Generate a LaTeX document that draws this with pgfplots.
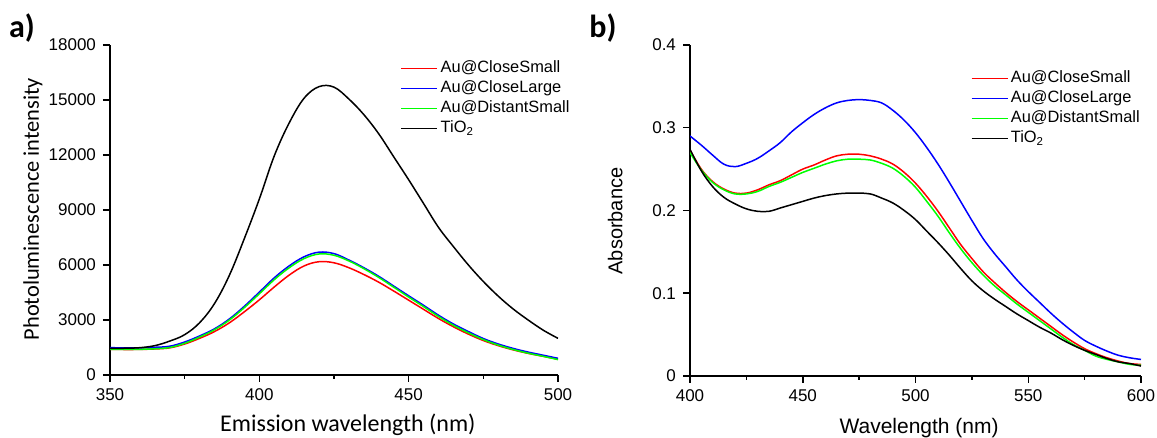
\documentclass[border=0pt]{standalone}
\usepackage{fontspec}
\setmainfont{Liberation Sans}
\newfontfamily\calfont{Carlito}
\usepackage{pgfplots}
\usepackage{pgfplotstable}
\pgfplotsset{compat=1.18}

% photoluminescence spectra, panel a
\pgfplotstableread{
x     r     b     g     k
350   1400  1490  1400  1450
355   1390  1480  1395  1460
360   1395  1480  1400  1490
365   1420  1510  1430  1600
370   1480  1570  1500  1850
375   1690  1800  1730  2200
380   2000  2130  2070  2850
385   2370  2520  2470  3900
390   2850  3060  3000  5450
395   3450  3750  3680  7450
400   4100  4520  4430  9600
405   4800  5300  5200  11950
410   5450  5950  5850  13750
415   5950  6450  6350  15100
420   6180  6700  6600  15730
425   6120  6620  6530  15700
430   5850  6270  6220  15050
435   5480  5850  5800  14200
440   5060  5380  5320  13150
445   4580  4850  4790  11900
450   4080  4320  4250  10650
455   3580  3800  3730  9350
460   3080  3260  3190  8050
465   2630  2780  2710  7000
470   2230  2370  2300  6000
475   1880  1990  1930  5100
480   1600  1690  1630  4300
485   1370  1450  1390  3600
490   1180  1250  1190  3000
495   1020  1080  1020  2450
500   860   910   840   2000
}\pltable

% absorbance spectra, panel b
\pgfplotstableread{
x     r      b      g      k
400   0.273  0.290  0.270  0.274
405   0.250  0.279  0.249  0.248
410   0.235  0.267  0.234  0.229
415   0.226  0.256  0.225  0.216
420   0.221  0.253  0.220  0.208
425   0.221  0.257  0.220  0.202
430   0.225  0.263  0.223  0.199
435   0.231  0.272  0.229  0.199
440   0.236  0.282  0.234  0.203
445   0.243  0.295  0.240  0.207
450   0.250  0.306  0.246  0.211
455   0.255  0.316  0.251  0.215
460   0.261  0.324  0.256  0.218
465   0.266  0.330  0.260  0.220
470   0.268  0.333  0.262  0.221
475   0.268  0.334  0.262  0.221
480   0.266  0.333  0.261  0.220
485   0.262  0.330  0.257  0.215
490   0.256  0.321  0.251  0.209
495   0.246  0.309  0.241  0.200
500   0.233  0.294  0.228  0.189
505   0.217  0.276  0.211  0.175
510   0.199  0.256  0.193  0.161
515   0.179  0.234  0.173  0.146
520   0.159  0.211  0.154  0.130
525   0.142  0.188  0.137  0.115
530   0.126  0.166  0.122  0.103
535   0.113  0.148  0.109  0.093
540   0.101  0.132  0.098  0.084
545   0.090  0.116  0.087  0.075
550   0.080  0.102  0.077  0.067
555   0.070  0.089  0.067  0.059
560   0.060  0.076  0.057  0.052
565   0.050  0.064  0.047  0.044
570   0.041  0.053  0.038  0.037
575   0.033  0.043  0.031  0.031
580   0.027  0.036  0.024  0.026
585   0.022  0.030  0.020  0.021
590   0.018  0.025  0.017  0.017
595   0.015  0.022  0.014  0.015
600   0.014  0.020  0.013  0.012
}\abtable

\pgfplotsset{
    legend image code/.code={\draw[#1] (0pt,0pt) -- (18pt,0pt);},
    panel/.style={
        scale only axis,
        axis x line*=bottom,
        axis y line*=left,
        axis line style={line width=0.75pt, -},
        tick align=outside,
        major tick length=3.5pt,
        minor tick length=2pt,
        every tick/.style={black, line width=0.75pt},
        minor x tick num=1,
        tick label style={font=\fontsize{8.5}{10}\selectfont},
        /pgf/number format/assume math mode=true,
        /pgf/number format/1000 sep={},
        scaled ticks=false,
        legend cell align=left,
        legend style={draw=none, fill=none, anchor=north west,
            font=\fontsize{8.2}{9.6}\selectfont, inner sep=0pt, row sep=0pt,
            nodes={inner sep=1.25pt, text height=6pt, text depth=1.5pt}},
        every axis plot/.append style={line width=0.75pt, smooth, tension=0.6},
    }
}

\begin{document}
\begin{tikzpicture}
\path[use as bounding box] (0,0) rectangle (578.5pt,219pt);

\node[font=\calfont\bfseries\fontsize{16}{18}\selectfont] at (11pt,205pt) {a)};
\node[font=\calfont\bfseries\fontsize{16}{18}\selectfont] at (301.5pt,205pt) {b)};

\begin{axis}[
    panel,
    at={(55pt,31.5pt)}, anchor=south west,
    width=224pt, height=165pt,
    xmin=350, xmax=500, ymin=0, ymax=18000,
    xtick={350,400,450,500},
    ytick={0,3000,6000,9000,12000,15000,18000},
    xlabel={Emission wavelength (nm)},
    ylabel={Photoluminescence intensity},
    xlabel style={font=\calfont\fontsize{12}{14}\selectfont, at={(axis description cs:0.531,-0.152)}, anchor=center},
    ylabel style={font=\calfont\fontsize{11.2}{13}\selectfont, at={(axis description cs:-0.172,0.503)}, anchor=center},
    legend style={at={(axis description cs:0.648,0.961)}},
]
\addplot[color=red] table[x=x, y=r] {\pltable};
\addplot[color=blue] table[x=x, y=b] {\pltable};
\addplot[color=green] table[x=x, y=g] {\pltable};
\addplot[color=black] table[x=x, y=k] {\pltable};
\legend{Au@CloseSmall, Au@CloseLarge, Au@DistantSmall, TiO\textsubscript{2}}
\end{axis}

\begin{axis}[
    panel,
    at={(345pt,31pt)}, anchor=south west,
    width=225.5pt, height=165.5pt,
    xmin=400, xmax=600, ymin=0, ymax=0.4,
    xtick={400,450,500,550,600},
    ytick={0,0.1,0.2,0.3,0.4},
    xlabel={Wavelength (nm)},
    ylabel={Absorbance},
    xlabel style={font=\fontsize{10.5}{12}\selectfont, at={(axis description cs:0.508,-0.157)}, anchor=center},
    ylabel style={font=\fontsize{10}{12}\selectfont, at={(axis description cs:-0.166,0.468)}, anchor=center},
    legend style={at={(axis description cs:0.622,0.9309)}},
]
\addplot[color=red] table[x=x, y=r] {\abtable};
\addplot[color=blue] table[x=x, y=b] {\abtable};
\addplot[color=green] table[x=x, y=g] {\abtable};
\addplot[color=black] table[x=x, y=k] {\abtable};
\legend{Au@CloseSmall, Au@CloseLarge, Au@DistantSmall, TiO\textsubscript{2}}
\end{axis}
\end{tikzpicture}
\end{document}
